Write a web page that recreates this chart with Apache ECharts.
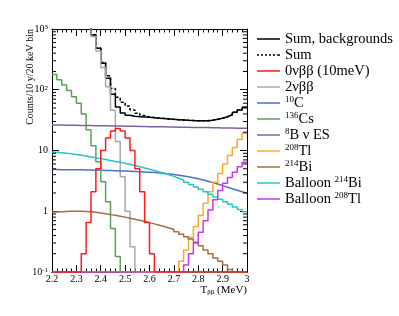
<!DOCTYPE html>
<html><head><meta charset="utf-8">
<script src="https://cdn.jsdelivr.net/npm/echarts@6/dist/echarts.min.js"></script>
<style>html,body{margin:0;padding:0;background:#fff}#c{width:399px;height:316px}</style>
</head><body><div id="c"></div>
<script>
// ---- data (20 keV bins from 2.2 to 3.0 MeV) ----
const BIN_EDGES = [2.20,2.22,2.24,2.26,2.28,2.30,2.32,2.34,2.36,2.38,2.40,2.42,2.44,2.46,2.48,2.50,2.52,2.54,2.56,2.58,
                   2.60,2.62,2.64,2.66,2.68,2.70,2.72,2.74,2.76,2.78,2.80,2.82,2.84,2.86,2.88,2.90,2.92,2.94,2.96,2.98,3.00];
const Y_MINOR = [0.2,0.3,0.4,0.5,0.6,0.7,0.8,0.9,2,3,4,5,6,7,8,9,20,30,40,50,60,70,80,90,200,300,400,500,600,700,800,900];

const sumBackgrounds = [19300,14200,10200,7100,4900,3300,2200,1380,800,480,272,154,84,52,41.5,38,36.5,36.1,35.6,35.1,
                        34.6,34.1,33.6,33.1,32.6,32.2,31.8,31.4,31.1,30.9,30.8,31.0,31.6,32.6,34.0,36.0,38.8,42.5,46.5,51.5];
const sumAll = [19300,14200,10200,7100,4900,3300,2200,1381,802,485,282,170,105,75,62.5,54,46.5,41.1,37.7,35.75,
                34.8,34.1,33.6,33.1,32.6,32.2,31.8,31.4,31.1,30.9,30.8,31.0,31.6,32.6,34.0,36.0,38.8,42.5,46.5,51.5];
const zeroNu = [0,0,0,0,0,0,0.2,0.65,2.1,5.0,10,16,21,23,21,16,10,5.0,2.1,0.65,
                0.2,0,0,0,0,0,0,0,0,0,0,0,0,0,0,0,0,0,0,0];
const twoNu = [19200,14100,10100,7000,4800,3200,2150,1330,750,435,230,112,46,14,3.7,1.0,0.26,0,0,0,
               0,0,0,0,0,0,0,0,0,0,0,0,0,0,0,0,0,0,0,0];
const c10 = [4.85,4.84,4.83,4.82,4.81,4.8,4.78,4.76,4.74,4.72,4.7,4.67,4.64,4.61,4.58,4.54,4.5,4.46,4.42,4.38,
             4.33,4.27,4.2,4.12,4.03,3.93,3.82,3.7,3.57,3.43,3.28,3.12,2.96,2.8,2.64,2.49,2.35,2.22,2.1,1.98];
const cs136 = [179,146,120,97,77,60,40,22,12,6.5,3.06,1.44,0.52,0.18,0,0,0,0,0,0,
               0,0,0,0,0,0,0,0,0,0,0,0,0,0,0,0,0,0,0,0];
const b8 = [26.3,26.2,26.1,26.1,26.0,25.9,25.8,25.7,25.6,25.5,25.5,25.4,25.3,25.2,25.1,25.0,25.0,24.9,24.8,24.7,
            24.6,24.6,24.5,24.4,24.3,24.2,24.2,24.1,24.0,23.9,23.8,23.8,23.7,23.6,23.5,23.5,23.4,23.3,23.3,23.2];
const tl208 = [0,0,0,0,0,0,0,0,0,0,0,0,0,0,0,0,0,0,0,0,
               0,0,0,0,0,0,0.15,0.23,0.37,0.56,0.85,1.35,2.1,3.0,4.2,6.0,8.3,11.2,15.2,19.3];
const bi214 = [0.97,0.98,0.99,1.0,1.0,1.0,0.99,0.98,0.96,0.94,0.91,0.88,0.86,0.83,0.8,0.77,0.74,0.71,0.68,0.65,
               0.62,0.59,0.56,0.53,0.5,0.46,0.42,0.38,0.35,0.31,0.27,0.23,0.2,0.17,0.15,0.13,0.11,0.09,0.07,0.06];
const balloonBi = [9.4,9.2,9.0,8.8,8.6,8.35,8.1,7.85,7.6,7.35,7.1,6.85,6.6,6.4,6.15,5.9,5.65,5.4,5.15,4.9,
                   4.7,4.45,4.25,4.0,3.75,3.5,3.25,3.0,2.75,2.5,2.3,2.1,1.9,1.72,1.57,1.43,1.3,1.18,1.07,0.98];
const balloonTl = [0,0,0,0,0,0,0,0,0,0,0,0,0,0,0,0,0,0,0,0,
                   0,0,0,0,0,0,0,0.13,0.2,0.3,0.45,0.7,1.05,1.55,2.2,2.9,3.6,4.4,5.4,6.4];

const SERIES_KEYS = ['sumBkg','sum','zeroNu','twoNu','c10','cs136','b8','tl208','bi214','balloonBi','balloonTl'];
const LEGEND_LABELS = ['Sum, backgrounds','Sum','0νββ (10meV)','2νββ','{s|10}C','{s|136}Cs','{s|8}B ν ES','{s|208}Tl','{s|214}Bi','Balloon {s|214}Bi','Balloon {s|208}Tl'];
const SERIES_DATA = [sumBackgrounds,sumAll,zeroNu,twoNu,c10,cs136,b8,tl208,bi214,balloonBi,balloonTl];
const COLORS = ['#000000','#000000','#ff1a1a','#a8a8a8','#4a72c9','#5f9f5a','#7f63a0','#ffa826','#a0703f','#22c8c8','#cc33ee'];
const DASH = ['solid',[3,2],'solid','solid','solid','solid','solid','solid','solid','solid','solid'];

const X_MIN = 2.2, X_MAX = 3.0, Y_MIN = 0.1, Y_MAX = 1000;
const FONT = 'Liberation Serif';
const ICON_SOLID = 'path://M0,0H23V1.5H0Z';
const ICON_DASH = 'path://M0,0h2v1.5h-2z M4,0h2v1.5h-2z M8,0h2v1.5h-2z M12,0h2v1.5h-2z M16,0h2v1.5h-2z M20,0h3v1.5h-3z';

function hist(vals){
  const d = [];
  for (let i = 0; i < vals.length; i++) d.push([BIN_EDGES[i], Math.max(vals[i], Y_MIN)]);
  d.push([BIN_EDGES[vals.length], Math.max(vals[vals.length-1], Y_MIN)]);
  return d;
}

const series = SERIES_KEYS.map((k,i)=>({
  name: k, type: 'line', step: 'end', symbol: 'none', showSymbol: false,
  data: hist(SERIES_DATA[i]), clip: true, animation: false,
  lineStyle: {color: COLORS[i], width: 1.5, type: DASH[i]},
  itemStyle: {color: COLORS[i]},
  z: k === 'zeroNu' ? 5 : 2
}));
series.push({
  type: 'custom', silent: true, animation: false, z: 6,
  data: Y_MINOR.map(v => [X_MIN, v]),
  renderItem: (params, api) => {
    const v = api.value(1);
    const a = api.coord([X_MIN, v]), b = api.coord([X_MAX, v]);
    return {type: 'group', children: [
      {type: 'line', shape: {x1: a[0], y1: a[1], x2: a[0] + 4, y2: a[1]}, style: {stroke: '#000', lineWidth: 1}},
      {type: 'line', shape: {x1: b[0], y1: b[1], x2: b[0] - 4, y2: b[1]}, style: {stroke: '#000', lineWidth: 1}}
    ]};
  }
});

const supStyle = {fontSize: 7, fontFamily: FONT, color: '#000', verticalAlign: 'top', lineHeight: 8};
const xAxisBase = {
  type: 'value', min: X_MIN, max: X_MAX, interval: 0.1,
  axisLine: {show: true, lineStyle: {color: '#000', width: 1}},
  axisTick: {show: true, inside: true, length: 7, lineStyle: {color: '#000'}},
  minorTick: {show: true, splitNumber: 5, length: 3.5, lineStyle: {color: '#000'}},
  splitLine: {show: false}
};
const yAxisBase = {
  type: 'log', logBase: 10, min: Y_MIN, max: Y_MAX,
  axisLine: {show: true, lineStyle: {color: '#000', width: 1}},
  axisTick: {show: true, inside: true, length: 7, lineStyle: {color: '#000'}},
  splitLine: {show: false}
};

const option = {
  animation: false,
  backgroundColor: '#fff',
  grid: {left: 52, top: 29, right: 152, bottom: 44, containLabel: false},
  xAxis: [
    Object.assign({}, xAxisBase, {position: 'bottom',
      axisLabel: {show: true, margin: 2, fontFamily: FONT, fontSize: 10, color: '#000',
        formatter: v => (Math.round(v*10)/10).toString()}}),
    Object.assign({}, xAxisBase, {position: 'top', axisLabel: {show: false}})
  ],
  yAxis: [
    Object.assign({}, yAxisBase, {position: 'left',
      axisLabel: {show: true, margin: 4, fontFamily: FONT, fontSize: 10, color: '#000',
        formatter: v => { const e = Math.round(Math.log10(v)); if (e === 0) return '1'; if (e === 1) return '10';
          return '10{s|' + (e < 0 ? '-' : '') + Math.abs(e) + '}'; },
        rich: {s: supStyle}}}),
    Object.assign({}, yAxisBase, {position: 'right', axisLabel: {show: false}})
  ],
  legend: {
    data: SERIES_KEYS.map((k,i) => ({name: k, icon: DASH[i] === 'solid' ? ICON_SOLID : ICON_DASH})),
    orient: 'vertical', left: 257, top: 31, padding: 0,
    itemGap: 0, itemWidth: 23, itemHeight: 1.5,
    formatter: name => LEGEND_LABELS[SERIES_KEYS.indexOf(name)],
    textStyle: {fontFamily: FONT, fontSize: 14.5, color: '#000', lineHeight: 16,
      rich: {s: {fontSize: 9, fontFamily: FONT, color: '#000', verticalAlign: 'top', lineHeight: 10}}},
    selectedMode: false
  },
  graphic: [
    {type: 'text', x: 30, y: 29, rotation: Math.PI/2,
     style: {text: 'Counts/10 y/20 keV bin', font: '10px "Liberation Serif"', fill: '#000', align: 'right', verticalAlign: 'middle'}},
    {type: 'text', x: 247, y: 290,
     style: {text: 'T{b|ββ} (MeV)', font: '11px "Liberation Serif"', fill: '#000', align: 'right', verticalAlign: 'middle',
       rich: {b: {fontSize: 7, fontFamily: FONT, fill: '#000', verticalAlign: 'bottom', padding: [5,0,0,0]}}}}
  ],
  series: series
};

const chart = echarts.init(document.getElementById('c'), null, {renderer: 'canvas'});
chart.setOption(option);
</script>
</body></html>
